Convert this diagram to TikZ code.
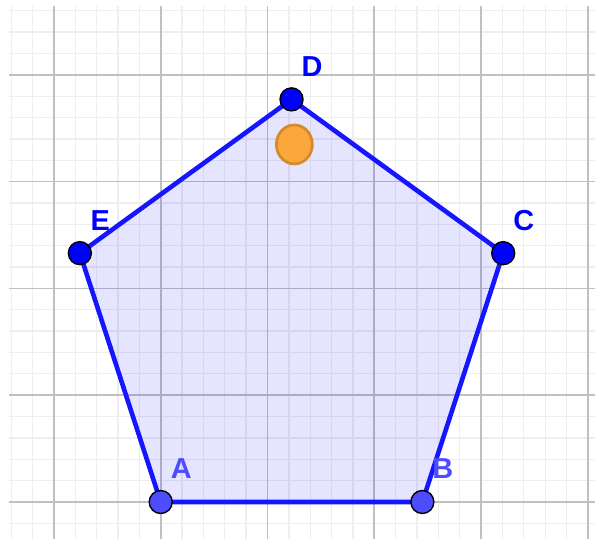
\documentclass[tikz,border=0pt]{standalone}
\usepackage{fontspec}
\setmainfont{Liberation Sans}
\usetikzlibrary{positioning, shapes.geometric}

\definecolor{edgeblue}{RGB}{21,21,255}
\definecolor{freeblue}{RGB}{77,77,255}
\definecolor{depblue}{RGB}{0,0,255}
\definecolor{minorgrid}{RGB}{238,238,238}
\definecolor{majorgrid}{RGB}{192,192,192}
\definecolor{dotorange}{RGB}{250,167,60}
\definecolor{dotrim}{RGB}{212,138,44}

\begin{document}
\begin{tikzpicture}[
  x=106.8bp, y=106.8bp,
  minor/.style={draw=minorgrid, line width=1.3bp},
  major/.style={draw=majorgrid, line width=1.8bp},
  side/.style={draw=edgeblue, line width=4.6bp, line join=round},
  pt/.style={circle, draw=black, line width=1.4bp, inner sep=0pt, minimum size=23bp},
  freept/.style={pt, fill=freeblue},
  deppt/.style={pt, fill=depblue},
  lbl/.style={font=\fontsize{29}{32}\selectfont\bfseries, xshift=20.5bp, yshift=33bp,
              inner sep=0pt},
]
\useasboundingbox (-1.5047,-0.3464) rectangle (4.0665,4.7004);
% ---- grid ----
\begin{scope}
  \clip (-1.42,-0.3464) rectangle (4.0665,4.635);
  \draw[minor] (-1.6,-0.4) grid[step=0.2] (4.2,4.8);
  \draw[major] (-2,-1) grid[step=1] (5,5);
\end{scope}
% ---- vertices ----
\coordinate (A) at (0,0);
\coordinate (B) at (2.45,0);
\coordinate (C) at (3.207,2.330);
\coordinate (D) at (1.225,3.770);
\coordinate (E) at (-0.757,2.330);
% ---- pentagon ----
\filldraw[side, fill=blue, fill opacity=0.1] (A) -- (B) -- (C) -- (D) -- (E) -- cycle;
% ---- extra point ----
\node[ellipse, fill=dotorange, draw=dotrim, line width=2.7bp, inner sep=0pt,
      minimum width=36bp, minimum height=39bp] (P) at (1.2515,3.348) {};
% ---- points ----
\node[freept] (pA) at (A) {};
\node[freept] (pB) at (B) {};
\node[deppt] (pC) at (C) {};
\node[deppt] (pD) at (D) {};
\node[deppt] (pE) at (E) {};
% ---- labels ----
\node[lbl, text=freeblue] (lA) at (A) {A};
\node[lbl, text=freeblue] (lB) at (B) {B};
\node[lbl, text=depblue] (lC) at (C) {C};
\node[lbl, text=depblue] (lD) at (D) {D};
\node[lbl, text=depblue] (lE) at (E) {E};
\end{tikzpicture}
\end{document}
